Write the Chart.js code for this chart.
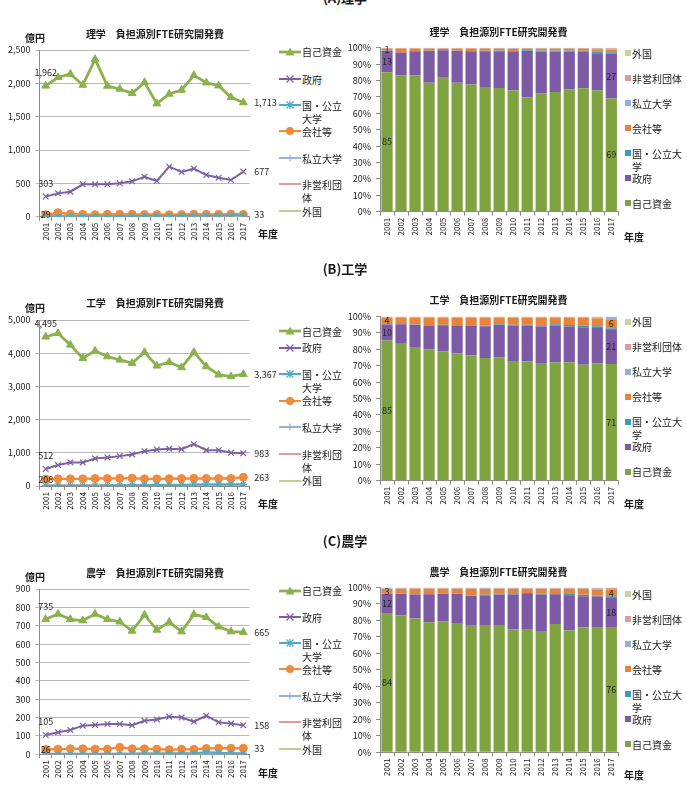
<!DOCTYPE html>
<html>
<head>
<meta charset="utf-8">
<script src="https://cdn.jsdelivr.net/npm/chart.js@4.4.1/dist/chart.umd.min.js"></script>
<style>
html, body { margin: 0; padding: 0; background: #fff; }
#page { position: relative; width: 687px; height: 798px; overflow: hidden;
  font-family: "Noto Sans CJK JP", "Noto Sans", sans-serif; color: #1a1a1a; }
#page canvas { position: absolute; }
.t { position: absolute; white-space: nowrap; }
.head { font-size: 13px; font-weight: bold; transform: translate(-50%, -50%); }
.title { font-size: 10px; font-weight: bold; transform: translate(-50%, -50%); }
.small { font-size: 10px; font-weight: bold; transform: translateY(-50%); }
.leg { font-size: 10px; line-height: 13px; }
.leg svg, .leg i { position: absolute; }
</style>
</head>
<body>
<div id="page"></div>
<script>
/* --- data (億円) --- */
var years = ['2001','2002','2003','2004','2005','2006','2007','2008','2009','2010','2011','2012','2013','2014','2015','2016','2017'];
var names = ['自己資金','政府','国・公立大学','会社等','私立大学','非営利団体','外国'];

// (A) 理学
var sciSelf = [1962,2090,2140,1975,2360,1960,1915,1850,2015,1695,1840,1900,2120,2010,1965,1790,1713];
var sciGov  = [303,350,375,485,485,485,500,530,600,535,750,670,720,625,585,550,677];
var sciPub  = [3,3,3,3,3,3,4,5,12,12,12,14,15,15,15,20,25];
var sciComp = [29,60,40,35,30,35,38,35,33,32,30,33,38,35,35,38,33];
var sciPriv = [4,4,4,4,4,4,4,4,5,5,5,5,5,5,5,8,10];
var sciNpo  = [5,5,5,5,5,5,5,5,5,5,5,5,5,5,5,10,15];
var sciFor  = [2,3,3,3,3,3,3,3,3,3,3,3,3,3,3,5,10];
var sciAxis = [2500, 500];   // max, step

// (B) 工学
var engSelf = [4495,4600,4250,3850,4070,3900,3800,3700,4030,3620,3730,3570,4030,3600,3350,3300,3367];
var engGov  = [512,630,710,710,830,860,900,950,1050,1100,1120,1110,1260,1080,1080,1000,983];
var engPub  = [8,8,8,10,10,15,20,25,25,30,35,40,45,50,50,50,50];
var engComp = [208,215,215,215,225,225,230,235,215,215,220,225,230,225,225,225,263];
var engPriv = [15,15,15,15,15,15,15,15,15,15,15,15,15,15,15,20,30];
var engNpo  = [15,15,15,15,15,15,15,15,15,15,15,15,15,15,15,20,30];
var engFor  = [10,10,10,10,10,10,10,10,10,10,10,10,10,10,10,12,19];
var engAxis = [5000, 1000];

// (C) 農学
var agrSelf = [735,764,735,728,764,735,722,672,759,677,720,668,762,746,695,668,665];
var agrGov  = [105,120,132,156,160,165,165,158,183,190,205,200,178,210,174,167,158];
var agrPub  = [1,1,1,1,1,2,2,3,4,4,5,6,5,12,8,6,5];
var agrComp = [26,28,30,30,28,28,38,30,30,28,25,27,27,32,33,33,33];
var agrPriv = [3,3,3,3,3,3,3,3,3,3,3,3,3,3,3,4,6];
var agrNpo  = [3,3,3,3,3,3,3,3,3,3,3,3,3,3,3,4,5];
var agrFor  = [2,2,2,2,2,2,2,2,2,2,2,2,2,2,2,2,3];
var agrAxis = [900, 100];

/* --- styles --- */
var F = '"Noto Sans CJK JP", "Noto Sans", sans-serif';
var lineColors = ['#8BB14C','#7E5FA6','#4BACC6','#F08A3C','#95B3D7','#E39A97','#B9D18C'];
var barColors  = ['#80A342','#7D5AA6','#3D9BB8','#E8843A','#93B1D8','#E09A98','#C2D69A'];
var pointStyles = ['triangle','crossRot','star','circle','cross',false,false];
var pointSizes = [4.5, 4, 3.5, 4, 3.5, 0, 0];

var page = document.getElementById('page');

function addText(cls, html, x, y) {
  var d = document.createElement('div');
  d.className = 't ' + cls;
  d.innerHTML = html;
  d.style.left = x + 'px';
  d.style.top = y + 'px';
  page.appendChild(d);
  return d;
}

function addCanvas(left, top, w, h) {
  var c = document.createElement('canvas');
  c.width = w; c.height = h;
  c.style.left = left + 'px'; c.style.top = top + 'px';
  c.style.width = w + 'px'; c.style.height = h + 'px';
  page.appendChild(c);
  return c;
}

/* --- value labels (first / last points) --- */
function labelPlugin(marks, kind) {
  return {
    id: 'valueLabels',
    afterDatasetsDraw: function(chart) {
      var ctx = chart.ctx;
      ctx.save();
      ctx.font = '9px ' + F;
      ctx.fillStyle = '#262626';
      ctx.textBaseline = 'middle';
      for (var i = 0; i < marks.length; i++) {
        var m = marks[i];
        var el = chart.getDatasetMeta(m.ds).data[m.idx];
        if (!el) continue;
        var v = chart.data.datasets[m.ds].data[m.idx];
        var x = el.x, y = el.y, t;
        if (kind === 'pct') {
          t = String(Math.round(v));
          y = (el.y + el.base) / 2;
          ctx.textAlign = 'center';
        } else {
          t = Math.round(v).toLocaleString('en-US');
          if (m.pos === 'above') { y -= 13; ctx.textAlign = 'center'; }
          else if (m.pos === 'right') { x += 11; ctx.textAlign = 'left'; }
          else ctx.textAlign = 'center';
        }
        ctx.fillText(t, x, y);
      }
      ctx.restore();
    }
  };
}

function xScale(axisH, stacked) {
  return {
    stacked: stacked,
    offset: true,
    grid: { display: true, drawOnChartArea: false, offset: true, tickLength: 4, color: '#8c8c8c' },
    border: { color: '#8c8c8c' },
    ticks: { autoSkip: false, maxRotation: 90, minRotation: 90, padding: 2, color: '#1a1a1a', font: { size: 8, family: F } },
    afterFit: function(s) { s.height = axisH; }
  };
}

/* --- line chart (left column) --- */
function lineChart(g, series, axis, marks) {
  var plotH = g.bottom - g.top;
  var top = Math.floor(g.top) - 14;
  var padTop = g.top - top;
  var H = Math.ceil(padTop + plotH + 30);
  var axisH = H - padTop - plotH;
  var W = 292;
  var cv = addCanvas(0, top, W, H);
  var ds = [];
  for (var i = 0; i < series.length; i++) {
    ds.push({
      label: names[i],
      data: series[i],
      borderColor: lineColors[i],
      backgroundColor: lineColors[i],
      borderWidth: i === 0 ? 2.8 : (i === 3 ? 2.4 : 2),
      pointStyle: pointStyles[i],
      pointRadius: pointSizes[i],
      pointBorderWidth: i === 0 || i === 3 ? 1 : 1.2,
      tension: 0
    });
  }
  new Chart(cv, {
    type: 'line',
    data: { labels: years, datasets: ds },
    options: {
      responsive: false,
      animation: false,
      devicePixelRatio: 1,
      layout: { padding: { top: padTop, right: W - g.right, left: 0, bottom: 0 } },
      plugins: { legend: { display: false }, tooltip: { enabled: false } },
      scales: {
        x: xScale(axisH, false),
        y: {
          min: 0, max: axis[0],
          grid: { color: '#b9b9b9', tickLength: 4 },
          border: { display: true, color: '#8c8c8c' },
          ticks: { stepSize: axis[1], padding: 5, color: '#1a1a1a', font: { size: 9, family: F },
            callback: function(v) { return v.toLocaleString('en-US'); } },
          afterFit: function(s) { s.width = g.left; }
        }
      }
    },
    plugins: [labelPlugin(marks, 'num')]
  });
}

/* --- 100% stacked bar chart (right column) --- */
function pctChart(g, series, marks) {
  var totals = years.map(function(y, i) {
    var s = 0;
    for (var k = 0; k < series.length; k++) s += series[k][i];
    return s;
  });
  var plotH = g.bottom - g.top;
  var top = Math.floor(g.top) - 10;
  var padTop = g.top - top;
  var H = Math.ceil(padTop + plotH + 30);
  var axisH = H - padTop - plotH;
  var left = 343, W = g.right - left + 3;
  var cv = addCanvas(left, top, W, H);
  var ds = [];
  for (var i = 0; i < series.length; i++) {
    ds.push({
      label: names[i],
      data: series[i].map(function(v, j) { return v / totals[j] * 100; }),
      backgroundColor: barColors[i],
      borderWidth: 0,
      barPercentage: 0.8,
      categoryPercentage: 1,
      stack: 's'
    });
  }
  new Chart(cv, {
    type: 'bar',
    data: { labels: years, datasets: ds },
    options: {
      responsive: false,
      animation: false,
      devicePixelRatio: 1,
      layout: { padding: { top: padTop, right: 3, left: 0, bottom: 0 } },
      plugins: { legend: { display: false }, tooltip: { enabled: false } },
      scales: {
        x: xScale(axisH, true),
        y: {
          stacked: true, min: 0, max: 100,
          grid: { drawOnChartArea: false, color: '#8c8c8c', tickLength: 4 },
          border: { display: true, color: '#8c8c8c' },
          ticks: { stepSize: 10, padding: 5, color: '#1a1a1a', font: { size: 9, family: F },
            callback: function(v) { return v + '%'; } },
          afterFit: function(s) { s.width = g.left - left; }
        }
      }
    },
    plugins: [labelPlugin(marks, 'pct')]
  });
}

/* --- legends --- */
function marker(i) {
  var c = lineColors[i];
  var s = '<line x1="0" y1="5" x2="22" y2="5" stroke="' + c + '" stroke-width="' + (i === 0 ? 2.8 : 2) + '"/>';
  if (i === 0) s += '<polygon points="11,0.5 15.5,8.5 6.5,8.5" fill="' + c + '"/>';
  if (i === 1) s += '<path d="M7.5,1.5L14.5,8.5M14.5,1.5L7.5,8.5" stroke="' + c + '" stroke-width="1.2"/>';
  if (i === 2) s += '<path d="M7.5,1.5L14.5,8.5M14.5,1.5L7.5,8.5M11,1L11,9" stroke="' + c + '" stroke-width="1.2"/>';
  if (i === 3) s += '<circle cx="11" cy="5" r="4" fill="' + c + '"/>';
  if (i === 4) s += '<path d="M11,1.5L11,8.5M7.5,5L14.5,5" stroke="' + c + '" stroke-width="1.2"/>';
  return '<svg width="22" height="10" style="left:-23px;top:1.5px">' + s + '</svg>';
}

var lineLegendText = ['自己資金','政府','国・公立<br>大学','会社等','私立大学','非営利団<br>体','外国'];
var pctLegendText = ['自己資金','政府','国・公立大<br>学','会社等','私立大学','非営利団体','外国'];

function lineLegend(ys) {
  for (var i = 0; i < 7; i++) {
    addText('leg', marker(i) + lineLegendText[i], 302, ys[i] - 6.5);
  }
}

function pctLegend(y0) {
  for (var k = 0; k < 7; k++) {
    var i = 6 - k;
    var sw = '<i style="left:-7px;top:3.5px;width:6px;height:6px;background:' + barColors[i] + '"></i>';
    addText('leg', sw + pctLegendText[i], 632, y0 + 25 * k - 6.5);
  }
}

/* --- panels --- */
var panels = [
  { head: '(A)理学', headY: -3, field: '理学',
    line: { top: 50, bottom: 216.7, left: 39.5, right: 249.5 },
    pct: { top: 47.7, bottom: 211.7, left: 380, right: 620 },
    titleY: [33.3, 30.7], unitY: 36.7, yearY: [233, 235.7],
    lineLeg: [51.7, 79, 105, 131, 158.3, 184.3, 211], pctLeg: 53.3,
    series: [sciSelf, sciGov, sciPub, sciComp, sciPriv, sciNpo, sciFor], axis: sciAxis,
    pctMarks: [{ds:0,idx:0},{ds:1,idx:0},{ds:3,idx:0},{ds:0,idx:16},{ds:1,idx:16}] },
  { head: '(B)工学', headY: 268.3, field: '工学',
    line: { top: 320, bottom: 486, left: 39.5, right: 249.5 },
    pct: { top: 316, bottom: 480.7, left: 380, right: 620 },
    titleY: [301.7, 299.3], unitY: 306.7, yearY: [503.3, 503.3],
    lineLeg: [331, 347.7, 374, 400.7, 427.3, 454, 480.7], pctLeg: 321.7,
    series: [engSelf, engGov, engPub, engComp, engPriv, engNpo, engFor], axis: engAxis,
    pctMarks: [{ds:0,idx:0},{ds:1,idx:0},{ds:3,idx:0},{ds:0,idx:16},{ds:1,idx:16},{ds:3,idx:16}] },
  { head: '(C)農学', headY: 540, field: '農学',
    line: { top: 589, bottom: 754.3, left: 39.5, right: 249.5 },
    pct: { top: 587.3, bottom: 752.3, left: 380, right: 620 },
    titleY: [571.7, 570.7], unitY: 575.7, yearY: [771.7, 774.3],
    lineLeg: [590.7, 617.3, 643.3, 669, 696, 722.3, 749], pctLeg: 594,
    series: [agrSelf, agrGov, agrPub, agrComp, agrPriv, agrNpo, agrFor], axis: agrAxis,
    pctMarks: [{ds:0,idx:0},{ds:1,idx:0},{ds:3,idx:0},{ds:0,idx:16},{ds:1,idx:16},{ds:3,idx:16}] }
];

var lineMarks = [
  {ds:0, idx:0, pos:'above'}, {ds:0, idx:16, pos:'right'},
  {ds:1, idx:0, pos:'above'}, {ds:1, idx:16, pos:'right'},
  {ds:3, idx:0, pos:'center'}, {ds:3, idx:16, pos:'right'}
];

panels.forEach(function(p) {
  lineChart(p.line, p.series, p.axis, lineMarks);
  pctChart(p.pct, p.series, p.pctMarks);
  addText('head', p.head, 345, p.headY);
  addText('title', p.field + '　負担源別FTE研究開発費', 155, p.titleY[0]);
  addText('title', p.field + '　負担源別FTE研究開発費', 498.5, p.titleY[1]);
  addText('small', '億円', 25, p.unitY);
  addText('small', '年度', 258, p.yearY[0]);
  addText('small', '年度', 624, p.yearY[1]);
  lineLegend(p.lineLeg);
  pctLegend(p.pctLeg);
});
</script>
</body>
</html>
